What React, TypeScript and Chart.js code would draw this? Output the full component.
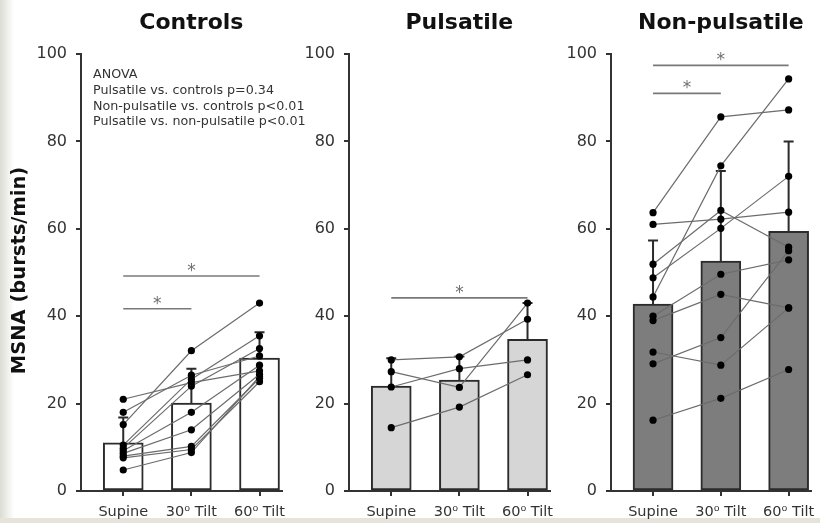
import React, { useEffect, useRef } from 'react';
import { Chart, registerables } from 'chart.js';

Chart.register(...registerables);

const FONT = "'DejaVu Sans', sans-serif";

// Condition labels along each x axis
const categories = ['Supine', '30\u2070 Tilt', '60\u2070 Tilt'];
const yTicks = [0, 20, 40, 60, 80, 100];

// Controls: group means, SD, and individual subjects (supine, 30°, 60°)
const controlsMean = [11.0, 20.1, 30.4];
const controlsSd = [5.8, 7.9, 5.9];
const controlsSubjects = [
  [21.0, 24.8, 27.5],
  [18.0, 26.5, 30.9],
  [15.2, 32.1, 43.0],
  [10.5, 25.6, 35.5],
  [9.8, 24.0, 32.6],
  [9.2, 18.0, 28.8],
  [8.6, 14.0, 26.7],
  [8.0, 10.2, 25.8],
  [7.6, 9.5, 25.0],
  [4.8, 8.8, 26.2],
];
const controlsSig = [
  { from: 0, to: 1, level: 41.7 },
  { from: 0, to: 2, level: 49.2 },
];

// Pulsatile LVAD group
const pulsatileMean = [24.0, 25.4, 34.7];
const pulsatileSd = [6.4, 5.4, 8.3];
const pulsatileSubjects = [
  [30.0, 30.7, 39.3],
  [27.3, 23.7, 43.0],
  [23.8, 28.0, 30.0],
  [14.5, 19.2, 26.6],
];
const pulsatileSig = [{ from: 0, to: 2, level: 44.2 }];

// Non-pulsatile LVAD group
const nonPulsatileMean = [42.8, 52.6, 59.4];
const nonPulsatileSd = [14.5, 20.6, 20.6];
const nonPulsatileSubjects = [
  [63.7, 85.6, 87.2],
  [61.0, 62.2, 63.8],
  [44.4, 74.4, 94.3],
  [16.2, 21.2, 27.8],
  [31.8, 28.8, 41.9],
  [29.1, 35.1, 55.0],
  [40.0, 49.6, 52.9],
  [39.0, 45.0, 41.9],
  [51.9, 64.2, 55.8],
  [48.8, 60.1, 72.0],
];
const nonPulsatileSig = [
  { from: 0, to: 1, level: 91.0 },
  { from: 0, to: 2, level: 97.4 },
];

const anovaLines = [
  'ANOVA',
  'Pulsatile vs. controls p=0.34',
  'Non-pulsatile vs. controls p<0.01',
  'Pulsatile vs. non-pulsatile p<0.01',
];

const AXIS = '#333333';
const CANVAS_H = 523;

type Sig = { from: number; to: number; level: number };
type PanelSpec = {
  id: string;
  title: string;
  mean: number[];
  sd: number[];
  subjects: number[][];
  sig: Sig[];
  fill: string;
  left: number;
  width: number;
  axisWidth: number;
  padRight: number;
  first: boolean;
};

// Canvases are transparent, so the first one may extend under its neighbour
// to leave room for the ANOVA note.
const panels: PanelSpec[] = [
  {
    id: 'controls', title: 'Controls', mean: controlsMean, sd: controlsSd,
    subjects: controlsSubjects, sig: controlsSig, fill: '#ffffff',
    left: 0, width: 320, axisWidth: 81, padRight: 38, first: true,
  },
  {
    id: 'pulsatile', title: 'Pulsatile', mean: pulsatileMean, sd: pulsatileSd,
    subjects: pulsatileSubjects, sig: pulsatileSig, fill: '#d6d6d6',
    left: 290, width: 265, axisWidth: 59, padRight: 5, first: false,
  },
  {
    id: 'nonpulsatile', title: 'Non-pulsatile', mean: nonPulsatileMean, sd: nonPulsatileSd,
    subjects: nonPulsatileSubjects, sig: nonPulsatileSig, fill: '#7d7d7d',
    left: 555, width: 265, axisWidth: 56, padRight: 9, first: false,
  },
];

function decorPlugin(p: PanelSpec) {
  return {
    id: 'decor-' + p.id,
    afterDatasetDraw(chart: any, args: any) {
      if (args.index !== 0) return;
      const ctx = chart.ctx;
      const ys = chart.scales.y;
      const xs = chart.scales.x;
      ctx.save();
      ctx.strokeStyle = '#2b2b2b';
      ctx.lineWidth = 2;
      p.mean.forEach((m, i) => {
        const x = xs.getPixelForValue(i);
        const y0 = ys.getPixelForValue(m);
        const y1 = ys.getPixelForValue(m + p.sd[i]);
        ctx.beginPath();
        ctx.moveTo(x, y0);
        ctx.lineTo(x, y1);
        ctx.moveTo(x - 5, y1);
        ctx.lineTo(x + 5, y1);
        ctx.stroke();
      });
      ctx.restore();
    },
    afterDraw(chart: any) {
      const ctx = chart.ctx;
      const ys = chart.scales.y;
      const xs = chart.scales.x;
      ctx.save();
      // panel title
      ctx.fillStyle = '#111111';
      ctx.font = `bold 22px ${FONT}`;
      ctx.textAlign = 'center';
      ctx.textBaseline = 'middle';
      ctx.fillText(p.title, xs.getPixelForValue(1), 23);

      // significance brackets
      p.sig.forEach((s) => {
        const xa = xs.getPixelForValue(s.from);
        const xb = xs.getPixelForValue(s.to);
        const y = ys.getPixelForValue(s.level);
        ctx.strokeStyle = '#787878';
        ctx.lineWidth = 1.6;
        ctx.beginPath();
        ctx.moveTo(xa, y);
        ctx.lineTo(xb, y);
        ctx.stroke();
        ctx.fillStyle = '#707070';
        ctx.font = `17px ${FONT}`;
        ctx.textAlign = 'center';
        ctx.textBaseline = 'alphabetic';
        ctx.fillText('*', (xa + xb) / 2, y);
      });

      if (p.first) {
        // y axis title
        ctx.save();
        ctx.translate(20, (chart.chartArea.top + chart.chartArea.bottom) / 2 - 2);
        ctx.rotate(-Math.PI / 2);
        ctx.fillStyle = '#111111';
        ctx.font = `bold 19.5px ${FONT}`;
        ctx.textAlign = 'center';
        ctx.textBaseline = 'middle';
        ctx.fillText('MSNA (bursts/min)', 0, 0);
        ctx.restore();

        // ANOVA summary
        ctx.fillStyle = '#333333';
        ctx.font = `12.7px ${FONT}`;
        ctx.textAlign = 'left';
        ctx.textBaseline = 'middle';
        anovaLines.forEach((t, i) => ctx.fillText(t, 93, 75 + i * 15.6));
      }
      ctx.restore();
    },
  };
}

function buildConfig(p: PanelSpec): any {
  const barData = p.mean.map((m, i) => ({ x: i, y: m }));
  const subjectSets = p.subjects.map((vals, k) => ({
    type: 'line',
    label: `subject ${k + 1}`,
    data: vals.map((v, i) => ({ x: i, y: v })),
    borderColor: '#6c6c6c',
    borderWidth: 1.2,
    pointRadius: 3.6,
    pointBackgroundColor: '#000000',
    pointBorderColor: '#000000',
    pointBorderWidth: 0,
    fill: false,
    tension: 0,
    order: 1,
    clip: false,
  }));
  const gridOpts = {
    drawOnChartArea: false,
    drawTicks: true,
    tickLength: 5,
    color: AXIS,
    lineWidth: 2,
    offset: false,
  };
  return {
    type: 'bar',
    data: {
      datasets: [
        {
          type: 'bar',
          label: 'mean',
          data: barData,
          backgroundColor: p.fill,
          borderColor: '#2b2b2b',
          borderWidth: 2,
          borderSkipped: false,
          barThickness: 40,
          order: 2,
        },
        ...subjectSets,
      ],
    },
    options: {
      animation: false,
      responsive: false,
      devicePixelRatio: 1,
      events: [],
      layout: { padding: { top: 54, bottom: 0, left: 0, right: p.padRight } },
      plugins: {
        legend: { display: false },
        tooltip: { enabled: false },
        title: { display: false },
      },
      scales: {
        x: {
          type: 'linear',
          offset: false,
          min: -0.62,
          max: 2.33,
          afterBuildTicks: (s: any) => {
            s.ticks = categories.map((_, i) => ({ value: i }));
          },
          afterFit: (s: any) => {
            s.height = 32;
            // labels may overhang the plot edge; keep the plot width fixed
            s.paddingLeft = 0;
            s.paddingRight = 0;
          },
          grid: gridOpts,
          border: { display: true, color: AXIS, width: 2 },
          ticks: {
            callback: (v: number) => categories[v],
            font: { family: FONT, size: 14.5 },
            color: '#333333',
            padding: 8,
            maxRotation: 0,
            autoSkip: false,
          },
        },
        y: {
          type: 'linear',
          min: 0,
          max: 100,
          afterBuildTicks: (s: any) => {
            s.ticks = yTicks.map((v) => ({ value: v }));
          },
          afterFit: (s: any) => {
            s.width = p.axisWidth;
          },
          grid: gridOpts,
          border: { display: true, color: AXIS, width: 2 },
          ticks: {
            font: { family: FONT, size: 16 },
            color: '#333333',
            padding: 9,
          },
        },
      },
    },
    plugins: [decorPlugin(p)],
  };
}

function Panel({ spec }: { spec: PanelSpec }) {
  const ref = useRef<HTMLCanvasElement | null>(null);
  useEffect(() => {
    if (!ref.current) return;
    const chart = new Chart(ref.current, buildConfig(spec));
    return () => chart.destroy();
  }, [spec]);
  return (
    <canvas
      ref={ref}
      width={spec.width}
      height={CANVAS_H}
      style={{
        position: 'absolute',
        left: spec.left,
        top: 0,
        width: spec.width,
        height: CANVAS_H,
      }}
    />
  );
}

export default function App() {
  return (
    <div
      style={{
        position: 'fixed',
        left: 0,
        top: 0,
        width: 820,
        height: CANVAS_H,
        background: '#ffffff',
        overflow: 'hidden',
      }}
    >
      <div
        style={{
          position: 'absolute',
          left: 0,
          top: 0,
          width: 14,
          height: CANVAS_H,
          background: 'linear-gradient(to right, #dcdcd4, #ffffff)',
        }}
      />
      <div
        style={{
          position: 'absolute',
          left: 0,
          top: 518,
          width: 820,
          height: 5,
          background: '#e5e3da',
        }}
      />
      {panels.map((p) => (
        <Panel key={p.id} spec={p} />
      ))}
    </div>
  );
}
